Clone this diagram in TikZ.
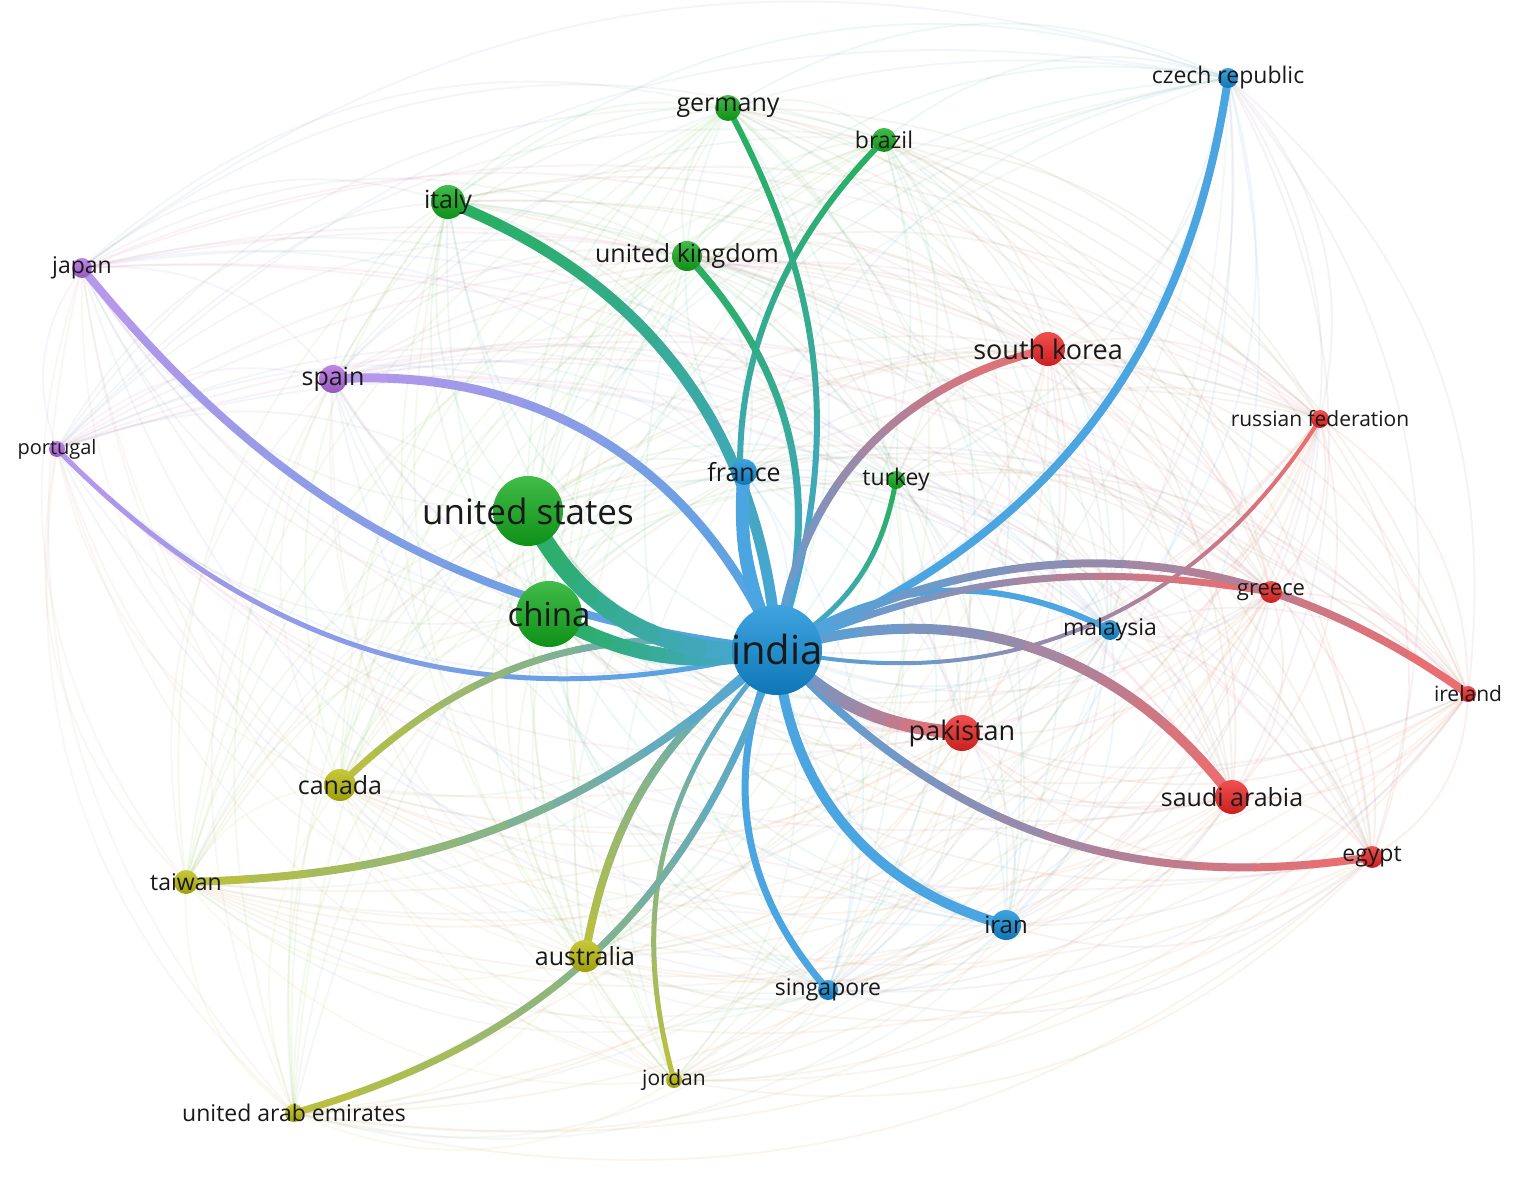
\documentclass[tikz,border=0pt]{standalone}
\usepackage{fontspec}
\setmainfont{Open Sans}
\usetikzlibrary{calc,backgrounds}
\definecolor{cblue}{RGB}{16,140,215}
\definecolor{cgreen}{RGB}{18,170,28}
\definecolor{cred}{RGB}{238,36,36}
\definecolor{cpurple}{RGB}{176,104,222}
\definecolor{cyellow}{RGB}{186,186,12}
\definecolor{lblue}{RGB}{75,165,225}
\definecolor{lgreen}{RGB}{40,175,95}
\definecolor{lred}{RGB}{240,108,108}
\definecolor{lpurple}{RGB}{185,150,235}
\definecolor{lyellow}{RGB}{188,192,60}
\definecolor{txt}{RGB}{25,25,25}
\newcommand\fsz[1]{\fontsize{#1}{#1}\selectfont}
\newcommand\nodelist{ind,us,chn,ita,ger,bra,uk,tur,fra,cze,mal,irn,sgp,kor,rus,gre,irl,pak,sau,egy,jpn,esp,prt,can,twn,aus,jor,uae}
\newcommand\indedge[4]{%
  \pgfmathsetmacro\bb{#2}%
  \pgfmathsetmacro\nb{-(#2)}%
  \pgfmathsetmacro\lw{#3*0.25}%
  \coordinate (ca) at ($(ind.center)!0.3915!\bb:(#1.center)$);
  \coordinate (cb) at ($(#1.center)!0.3915!\nb:(ind.center)$);
  \foreach \k in {0,...,11}{%
    \pgfmathsetmacro\ta{\k/12}%
    \pgfmathsetmacro\tb{(\k+1)/12}%
    \pgfmathtruncatemacro\pc{100-(\k+0.5)*100/12}%
    \begin{pgfscope}
      \pgfsetlinewidth{\lw pt}%
      \pgfsetroundcap
      \color{lblue!\pc!#4}%
      \pgfpathcurvebetweentime{\ta}{\tb}{\pgfpointanchor{ind}{center}}{\pgfpointanchor{ca}{center}}{\pgfpointanchor{cb}{center}}{\pgfpointanchor{#1}{center}}%
      \pgfusepath{stroke}%
    \end{pgfscope}
  }%
}
\tikzset{
  vnode/.style={circle, inner sep=0pt, draw=none, top color=#1!80!white, bottom color=#1!85!black},
  lab/.style={text=txt, inner sep=0pt},
  faint/.style={line width=0.45pt, draw opacity=0.075},
}
\begin{document}
\begin{tikzpicture}[x=0.25pt,y=0.25pt]
\useasboundingbox (0,0) rectangle (1516,1188);
\foreach \nm/\xx/\yy/\rr/\cc/\ff/\lbl in {
  ind/777/650/45/cblue/40/india,
  us/528/511/35/cgreen/35/united states,
  chn/549/614/33/cgreen/33/china,
  ita/448/202/17/cgreen/25/italy,
  ger/728/108/13/cgreen/25/germany,
  bra/884/140/12/cgreen/23/brazil,
  uk/687/256/15/cgreen/25/united kingdom,
  tur/896/480/9/cgreen/23/turkey,
  fra/744/472/13/cblue/25/france,
  cze/1228/78/10/cblue/23/czech republic,
  mal/1110/630/10/cblue/23/malaysia,
  irn/1006/925/15/cblue/24/iran,
  sgp/828/990/10/cblue/23/singapore,
  kor/1048/349/17/cred/27/south korea,
  rus/1320/419/9/cred/21/russian federation,
  gre/1271/592/11/cred/22/greece,
  irl/1468/694/8/cred/21/ireland,
  pak/962/733/18/cred/27/pakistan,
  sau/1232/797/17/cred/25/saudi arabia,
  egy/1372/857/11/cred/23/egypt,
  jpn/82/268/10/cpurple/23/japan,
  esp/333/379/14/cpurple/25/spain,
  prt/57/449/8/cpurple/20/portugal,
  can/340/785/16/cyellow/25/canada,
  twn/186/882/12/cyellow/23/taiwan,
  aus/585/956/16/cyellow/25/australia,
  jor/674/1080/8/cyellow/21/jordan,
  uae/294/1113/9/cyellow/23/united arab emirates}
{
  \expandafter\xdef\csname px\nm\endcsname{\xx}
  \expandafter\xdef\csname py\nm\endcsname{\yy}
  \expandafter\xdef\csname pc\nm\endcsname{\cc}
  \pgfmathsetmacro\fq{\ff/4}
  \pgfmathsetmacro\dm{\rr/2}
  \node[vnode=\cc, minimum size=\dm pt,
        label={[lab, font=\fsz{\fq}]center:\lbl}] (\nm) at (\xx,1188-\yy) {};
}
\begin{scope}[on background layer]
  \fill[white] (0,0) rectangle (1516,1188);
  % faint web of all links
  \foreach \a [count=\i] in \nodelist {
    \foreach \b [count=\j] in \nodelist {
      \ifnum\j>\i\relax
        \edef\xxa{\csname px\a\endcsname}\edef\yya{\csname py\a\endcsname}
        \edef\xxb{\csname px\b\endcsname}\edef\yyb{\csname py\b\endcsname}
        \pgfmathsetmacro\sg{((\xxa+\xxb)/200-7.6)*(\yyb-\yya)/100-((\yya+\yyb)/200-6.0)*(\xxb-\xxa)/100}
        \pgfmathsetmacro\bend{\sg>0 ? 28 : -28}
        \edef\cola{\csname pc\a\endcsname}
        \edef\colb{\csname pc\b\endcsname}
        \draw[faint, draw=\cola!50!\colb] (\a.center) to[bend left=\bend] (\b.center);
      \fi
    }
  }
  % strong links from india (thin first)
  \indedge{rus}{-35}{4}{lred}
  \indedge{tur}{-25}{5}{lgreen}
  \indedge{jor}{-29}{5}{lyellow}
  \indedge{prt}{30}{5}{lpurple}
  \indedge{ger}{-23}{6}{lgreen}
  \indedge{bra}{33}{6}{lgreen}
  \indedge{mal}{30}{6}{lblue}
  \indedge{uk}{-30}{7}{lgreen}
  \indedge{gre}{16}{7}{lred}
  \indedge{sgp}{-33}{7}{lblue}
  \indedge{uae}{28}{7}{lyellow}
  \indedge{can}{-27}{7}{lyellow}
  \indedge{kor}{35}{8}{lred}
  \indedge{cze}{-30}{8}{lblue}
  \indedge{irl}{32}{8}{lred}
  \indedge{egy}{-28}{8}{lred}
  \indedge{aus}{-22}{8}{lyellow}
  \indedge{twn}{20}{8}{lyellow}
  \indedge{jpn}{22}{8}{lpurple}
  \indedge{esp}{-35}{9}{lpurple}
  \indedge{sau}{35}{10}{lred}
  \indedge{irn}{-35}{10}{lblue}
  \indedge{ita}{-32}{11}{lgreen}
  \indedge{fra}{15}{13}{lblue}
  \indedge{pak}{-20}{13}{lred}
  \indedge{chn}{20}{15}{lgreen}
  \indedge{us}{35}{18}{lgreen}
\end{scope}
\end{tikzpicture}
\end{document}
